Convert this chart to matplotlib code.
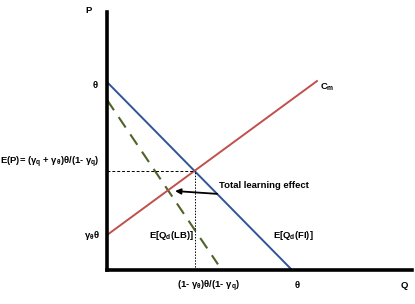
import matplotlib
matplotlib.use("Agg")
import matplotlib.pyplot as plt

plt.rcParams['mathtext.fontset'] = 'custom'
plt.rcParams['mathtext.rm'] = 'Liberation Sans:bold'
plt.rcParams['mathtext.it'] = 'Liberation Sans:bold'
plt.rcParams['mathtext.bf'] = 'Liberation Sans:bold'
plt.rcParams['font.family'] = ['Liberation Sans', 'DejaVu Sans']

# Data (units of theta)
fi_q = [0.0, 1.0]          # E[Qd(FI)] demand
fi_p = [1.0, 0.0]
lb_q = [0.0, 0.60]         # E[Qd(LB)] demand (dashed)
lb_p = [0.905, 0.03]
cm_q = [0.0, 1.135]        # marginal cost Cm
cm_p = [0.186, 1.005]
eq_q = 0.473               # equilibrium quantity
eq_p = 0.527               # equilibrium price
arrow_tail = (0.595, 0.405)
arrow_head = (0.368, 0.42)

fig = plt.figure(figsize=(4.15, 3.04), dpi=100)
x0, x1 = 107 / 415, 412 / 415
y0, y1 = (304 - 270) / 304, (304 - 12) / 304
ax = fig.add_axes([x0, y0, x1 - x0, y1 - y0])
ax.set_xlim(0, (412 - 107) / 185)
ax.set_ylim(0, (270 - 12) / 188)
for s in ['top', 'right']:
    ax.spines[s].set_visible(False)
for s in ['left', 'bottom']:
    ax.spines[s].set_linewidth(2.6)
    ax.spines[s].set_color('black')
ax.set_xticks([])
ax.set_yticks([])

ax.plot(fi_q, fi_p, color='#2F5597', lw=1.4, solid_capstyle='butt')
ax.plot(lb_q, lb_p, color='#4F6228', lw=1.5, dashes=(6, 4))
ax.plot(cm_q, cm_p, color='#C0504D', lw=1.4)
ax.plot([0, eq_q], [eq_p, eq_p], color='black', lw=0.7, dashes=(3, 2))
ax.plot([eq_q, eq_q], [0, eq_p], color='black', lw=0.7, dashes=(1.5, 1.5))

ax.annotate('', xy=arrow_head, xytext=arrow_tail,
            arrowprops=dict(arrowstyle='-|>', color='black', lw=1.3,
                            mutation_scale=8, shrinkA=0, shrinkB=0))

fs = 6.8
kw = dict(fontsize=fs, fontweight='bold', clip_on=False)
ax.text(-0.097, 1.378, 'P', ha='center', va='center', **kw)
ax.text(-0.065, 0.98, 'θ', ha='center', va='center', **kw)
ax.text(-0.04, 0.57, r'E(P)= (γ$_q$ + γ$_θ$)θ/(1- γ$_q$)', ha='right', va='center', **kw)
ax.text(-0.04, 0.186, r'γ$_θ$θ', ha='right', va='center', **kw)
ax.text(0.47, 0.186, r'E[Q$_d$(LB)]', ha='right', va='center', **kw)
ax.text(0.895, 0.183, r'E[Q$_d$(FI)]', ha='left', va='center', **kw)
ax.text(0.55, -0.085, r'(1- γ$_θ$)θ/(1- γ$_q$)', ha='center', va='center', **kw)
ax.text(1.03, -0.085, 'θ', ha='center', va='center', **kw)
ax.text(1.605, -0.085, 'Q', ha='center', va='center', **kw)
ax.text(1.15, 0.973, r'C$_m$', ha='left', va='center', **kw)
ax.text(0.605, 0.452, 'Total learning effect', ha='left', va='center', **kw)

fig.savefig('out.png', dpi=100)
